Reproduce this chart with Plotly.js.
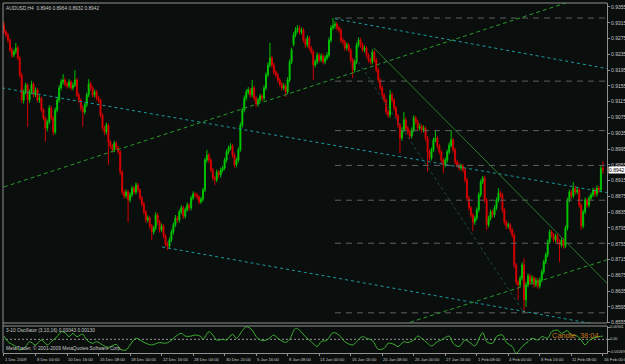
<!DOCTYPE html>
<html><head><meta charset="utf-8">
<script src="https://cdn.plot.ly/plotly-3.0.1.min.js"></script>
<style>html,body{margin:0;padding:0;background:#0a0e0d;}#chart{width:625px;height:364px;}</style>
</head><body><div id="chart"></div>
<script>
const open = [
.9309,.9292,.9284,.9271,.9246,.9233,.9241,.9251,.9226,.9183,
.9119,.9140,.9157,.9119,.9140,.9160,.9132,.9145,.9119,.9124,
.9094,.9074,.9048,.9064,.9099,.9074,.9038,.9094,.9119,.9150,
.9165,.9170,.9160,.9155,.9165,.9150,.9157,.9170,.9132,.9119,
.9099,.9089,.9107,.9132,.9160,.9150,.9132,.9140,.9124,.9119,
.9081,.9048,.9038,.9056,.9013,.9003,.8993,.9010,.8998,.8988,
.8937,.8886,.8876,.8886,.8866,.8879,.8896,.8886,.8904,.8891,
.8871,.8856,.8836,.8815,.8820,.8800,.8785,.8795,.8828,.8810,
.8790,.8800,.8775,.8754,.8749,.8765,.8785,.8803,.8820,.8815,
.8836,.8846,.8825,.8841,.8853,.8846,.8871,.8881,.8879,.8874,
.8861,.8868,.8891,.8967,.8980,.8967,.8942,.8922,.8917,.8937,
.8929,.8942,.8947,.8967,.8988,.8998,.9003,.8980,.8955,.8967,
.8993,.9056,.9094,.9124,.9140,.9145,.9132,.9150,.9124,.9109,
.9119,.9129,.9124,.9150,.9183,.9208,.9226,.9208,.9190,.9183,
.9170,.9160,.9150,.9155,.9140,.9170,.9216,.9260,.9284,.9297,
.9302,.9292,.9297,.9271,.9259,.9276,.9251,.9241,.9208,.9216,
.9233,.9221,.9231,.9216,.9226,.9233,.9271,.9302,.9307,.9312,
.9302,.9297,.9271,.9266,.9251,.9259,.9246,.9221,.9195,.9216,
.9259,.9271,.9259,.9246,.9251,.9233,.9221,.9216,.9241,.9221,
.9195,.9170,.9150,.9132,.9119,.9089,.9081,.9132,.9119,.9099,
.9079,.9056,.9023,.9043,.9069,.9048,.9038,.9028,.9043,.9074,
.9064,.9048,.9053,.9043,.9048,.9023,.8988,.8972,.8993,.9018,
.9023,.9003,.8988,.8967,.8955,.8967,.8988,.9005,.9018,.8993,
.8962,.8955,.8947,.8952,.8942,.8917,.8871,.8846,.8828,.8810,
.8820,.8841,.8879,.8912,.8922,.8866,.8803,.8820,.8836,.8828,
.8846,.8866,.8884,.8879,.8841,.8810,.8800,.8803,.8790,.8777,
.8701,.8658,.8651,.8668,.8701,.8613,.8651,.8673,.8658,.8668,
.8651,.8663,.8648,.8663,.8684,.8709,.8727,.8760,.8785,.8777,
.8765,.8775,.8760,.8752,.8765,.8749,.8795,.8866,.8886,.8876,
.8896,.8886,.8891,.8853,.8800,.8836,.8866,.8853,.8871,.8879,
.8891,.8881,.8896,.8891,.8946];
const high = [
.9318,.9298,.9290,.9276,.9252,.9248,.9264,.9256,.9230,.9188,
.9146,.9163,.9162,.9146,.9168,.9165,.9151,.9150,.9131,.9128,
.9099,.9078,.9070,.9106,.9104,.9079,.9100,.9125,.9157,.9172,
.9185,.9176,.9166,.9172,.9170,.9164,.9195,.9175,.9138,.9124,
.9105,.9113,.9138,.9172,.9166,.9155,.9146,.9145,.9130,.9123,
.9086,.9054,.9062,.9060,.9018,.9008,.9016,.9015,.9003,.8992,
.8941,.8892,.8893,.8891,.8885,.8902,.8901,.8911,.8909,.8896,
.8876,.8861,.8841,.8827,.8825,.8805,.8801,.8835,.8833,.8815,
.8806,.8805,.8780,.8760,.8771,.8791,.8809,.8828,.8826,.8842,
.8853,.8851,.8847,.8860,.8858,.8877,.8888,.8886,.8884,.8878,
.8874,.8897,.8973,.8993,.8985,.8972,.8947,.8927,.8943,.8942,
.8948,.8953,.8973,.8994,.9004,.9010,.9008,.8985,.8973,.8999,
.9062,.9100,.9131,.9147,.9152,.9150,.9170,.9155,.9129,.9125,
.9135,.9134,.9156,.9189,.9215,.9264,.9232,.9214,.9196,.9188,
.9175,.9165,.9162,.9160,.9177,.9222,.9252,.9291,.9304,.9309,
.9308,.9303,.9302,.9276,.9283,.9281,.9256,.9246,.9222,.9240,
.9238,.9237,.9236,.9232,.9240,.9278,.9309,.9327,.9319,.9317,
.9308,.9302,.9277,.9271,.9265,.9264,.9251,.9226,.9222,.9265,
.9278,.9277,.9264,.9257,.9256,.9238,.9226,.9248,.9246,.9226,
.9200,.9175,.9155,.9137,.9124,.9095,.9145,.9138,.9124,.9104,
.9084,.9061,.9050,.9089,.9075,.9054,.9044,.9050,.9081,.9079,
.9069,.9060,.9058,.9055,.9053,.9028,.8994,.8999,.9024,.9043,
.9028,.9008,.8993,.8972,.8973,.8994,.9012,.9043,.9023,.8998,
.8968,.8961,.8958,.8957,.8947,.8922,.8876,.8851,.8833,.8826,
.8847,.8885,.8918,.8927,.8927,.8871,.8826,.8842,.8841,.8852,
.8872,.8896,.8889,.8884,.8846,.8815,.8809,.8808,.8795,.8782,
.8706,.8664,.8674,.8708,.8718,.8658,.8680,.8679,.8675,.8673,
.8669,.8668,.8670,.8690,.8715,.8733,.8766,.8791,.8790,.8782,
.8781,.8780,.8766,.8771,.8770,.8801,.8872,.8892,.8891,.8911,
.8902,.8899,.8896,.8858,.8842,.8872,.8871,.8877,.8885,.8897,
.8896,.8903,.8901,.8952,.8964];
const low = [
.9286,.9278,.9265,.9240,.9226,.9228,.9236,.9220,.9176,.9112,
.9110,.9133,.9051,.9112,.9134,.9126,.9127,.9113,.9112,.9088,
.9068,.9013,.9040,.9058,.9068,.9030,.9032,.9088,.9113,.9144,
.9158,.9153,.9148,.9149,.9144,.9144,.9152,.9126,.9112,.9092,
.9051,.9083,.9101,.9126,.9143,.9126,.9126,.9118,.9112,.9075,
.9042,.9030,.9032,.8955,.8996,.8986,.8987,.8992,.8982,.8930,
.8879,.8868,.8870,.8810,.8860,.8873,.8880,.8880,.8885,.8865,
.8849,.8829,.8808,.8809,.8793,.8765,.8778,.8789,.8803,.8783,
.8784,.8768,.8747,.8739,.8742,.8759,.8779,.8797,.8808,.8809,
.8830,.8818,.8819,.8836,.8839,.8840,.8865,.8872,.8867,.8855,
.8856,.8862,.8886,.8961,.8960,.8935,.8915,.8904,.8911,.8922,
.8923,.8936,.8941,.8961,.8982,.8992,.8973,.8948,.8949,.8961,
.8988,.9050,.9088,.9118,.9133,.9125,.9126,.9117,.9102,.9103,
.9113,.9117,.9118,.9144,.9177,.9202,.9201,.9183,.9176,.9163,
.9153,.9143,.9144,.9127,.9134,.9164,.9210,.9255,.9278,.9290,
.9285,.9286,.9265,.9252,.9253,.9245,.9235,.9170,.9202,.9210,
.9214,.9215,.9209,.9210,.9220,.9227,.9265,.9296,.9300,.9295,
.9290,.9265,.9259,.9244,.9245,.9240,.9214,.9175,.9189,.9210,
.9253,.9252,.9240,.9240,.9227,.9214,.9209,.9210,.9214,.9189,
.9163,.9143,.9125,.9112,.9082,.9074,.9075,.9112,.9092,.9072,
.9049,.8985,.9016,.9037,.9041,.9031,.9021,.9022,.9037,.9057,
.9041,.9042,.9036,.9037,.9016,.8937,.8965,.8966,.8987,.9012,
.8996,.8981,.8960,.8934,.8949,.8961,.8982,.8999,.8986,.8955,
.8948,.8940,.8941,.8935,.8910,.8864,.8839,.8821,.8787,.8803,
.8814,.8835,.8873,.8906,.8859,.8790,.8797,.8814,.8821,.8822,
.8840,.8860,.8872,.8834,.8803,.8793,.8794,.8783,.8770,.8694,
.8651,.8613,.8645,.8662,.8580,.8595,.8645,.8651,.8652,.8644,
.8645,.8640,.8642,.8657,.8678,.8703,.8721,.8754,.8770,.8758,
.8759,.8753,.8709,.8746,.8742,.8744,.8789,.8860,.8869,.8870,
.8879,.8880,.8846,.8790,.8794,.8830,.8846,.8847,.8865,.8873,
.8874,.8875,.8884,.8885,.8932];
const close = [
.9292,.9284,.9271,.9246,.9233,.9241,.9251,.9226,.9183,.9119,
.9140,.9157,.9119,.9140,.9160,.9132,.9145,.9119,.9124,.9094,
.9074,.9048,.9064,.9099,.9074,.9038,.9094,.9119,.9150,.9165,
.9170,.9160,.9155,.9165,.9150,.9157,.9170,.9132,.9119,.9099,
.9089,.9107,.9132,.9160,.9150,.9132,.9140,.9124,.9119,.9081,
.9048,.9038,.9056,.9013,.9003,.8993,.9010,.8998,.8988,.8937,
.8886,.8876,.8886,.8866,.8879,.8896,.8886,.8904,.8891,.8871,
.8856,.8836,.8815,.8820,.8800,.8785,.8795,.8828,.8810,.8790,
.8800,.8775,.8754,.8749,.8765,.8785,.8803,.8820,.8815,.8836,
.8846,.8825,.8841,.8853,.8846,.8871,.8881,.8879,.8874,.8861,
.8868,.8891,.8967,.8980,.8967,.8942,.8922,.8917,.8937,.8929,
.8942,.8947,.8967,.8988,.8998,.9003,.8980,.8955,.8967,.8993,
.9056,.9094,.9124,.9140,.9145,.9132,.9150,.9124,.9109,.9119,
.9129,.9124,.9150,.9183,.9208,.9226,.9208,.9190,.9183,.9170,
.9160,.9150,.9155,.9140,.9170,.9216,.9246,.9284,.9297,.9302,
.9292,.9297,.9271,.9259,.9276,.9251,.9241,.9208,.9216,.9233,
.9221,.9231,.9216,.9226,.9233,.9271,.9302,.9307,.9312,.9302,
.9297,.9271,.9266,.9251,.9259,.9246,.9221,.9195,.9216,.9259,
.9271,.9259,.9246,.9251,.9233,.9221,.9216,.9241,.9221,.9195,
.9170,.9150,.9132,.9119,.9089,.9081,.9132,.9119,.9099,.9079,
.9056,.9023,.9043,.9069,.9048,.9038,.9028,.9043,.9074,.9064,
.9048,.9053,.9043,.9048,.9023,.8988,.8972,.8993,.9018,.9023,
.9003,.8988,.8967,.8955,.8967,.8988,.9005,.9018,.8993,.8962,
.8955,.8947,.8952,.8942,.8917,.8871,.8846,.8828,.8810,.8820,
.8841,.8879,.8912,.8922,.8866,.8803,.8820,.8836,.8828,.8846,
.8866,.8884,.8879,.8841,.8810,.8800,.8803,.8790,.8777,.8701,
.8658,.8651,.8668,.8701,.8613,.8651,.8673,.8658,.8668,.8651,
.8663,.8648,.8663,.8684,.8709,.8727,.8760,.8785,.8777,.8765,
.8775,.8760,.8752,.8765,.8749,.8795,.8866,.8886,.8876,.8896,
.8886,.8891,.8853,.8800,.8836,.8866,.8853,.8871,.8879,.8891,
.8881,.8896,.8891,.8946,.8942];

const timeTickIdx = [0,16,32,48,64,80,96,112,128,144,160,176,192,208,224,240,256,272,288,304];
const timeTickText = ["1 Dec 2009","8 Dec 00:00","10 Dec 16:00","15 Dec 08:00","18 Dec 00:00","22 Dec 16:00","28 Dec 04:00","30 Dec 20:00","5 Jan 16:00","8 Jan 08:00","13 Jan 00:00","15 Jan 16:00","20 Jan 08:00","25 Jan 00:00","27 Jan 16:00","1 Feb 08:00","4 Feb 00:00","8 Feb 16:00","11 Feb 08:00","16 Feb 00:00"];
const priceTicks = [.8555,.8595,.8635,.8675,.8715,.8755,.8795,.8835,.8875,.8915,.8955,.8995,.9035,.9075,.9115,.9155,.9195,.9235,.9275,.9315,.9355];
const oscTicks = [0.0066, 0, -0.0068];
const oscTickText = ['0.00941','0.00','-0.01069'];

const oscX = [0,2,6,8,11,13,16,19,22,24,27,29,31,33,35,37,40,42,45,47,50,53,57,59,62,64,67,69,72,75,79,82,84,87,90,92,95,97,100,101,104,106,108,111,113,116,118,121,123,126,128,131,134,137,139,143,145,148,150,153,156,159,161,164,167,170,173,177,179,182,184,187,190,193,195,198,200,203,205,208,210,212,215,217,220,222,226,228,231,234,237,239,243,245,248,250,253,255,258,260,263,266,268,271,273,276,278,281,283,286,288,291,293,295,297,299,302,304];
const oscV = [.0018,-.0013,-.0040,-.0059,-.0040,-.0013,-.0031,-.0004,-.0031,-.0013,
.0015,.0042,.0037,.0015,.0033,.0015,.0029,-.0004,-.0022,-.0013,
-.0031,-.0044,-.0028,-.0055,-.0059,-.0031,.0006,-.0004,-.0022,-.0031,
-.0018,-.0022,-.0013,.0015,.0033,.0018,.0018,.0024,.0015,0,
.0042,.0024,-.0004,0,-.0004,.0028,.0006,.0048,.0070,.0051,
.0015,-.0007,0,.0024,.0006,-.0017,0,.0061,.0051,.0015,
-.0013,-.0040,-.0013,-.0004,.0037,.0024,-.0013,-.0031,-.0013,.0015,
.0006,-.0007,-.0055,-.0050,-.0022,-.0028,-.0040,-.0013,-.0018,-.0004,
.0018,.0006,-.0022,-.0037,-.0013,-.0004,.0018,-.0022,-.0040,-.0004,
-.0022,-.0037,.0037,-.0013,-.0022,.0015,.0024,-.0018,-.0040,-.0077,
-.0040,-.0013,.0006,-.0004,.0015,.0006,.0042,.0051,.0033,.0048,
.0024,.0018,-.0004,-.0031,-.0007,.0006,.0015,.0018];

// drawn objects (bar index, price)
const channelMidX = [-1, 307.1], channelMidY = [.9150, .8884];
const channelTopX = [168, 307.1], channelTopY = [.9325, .9198];
const channelLowX = [80.2, 307.1], channelLowY = [.8747, .8545];
const trendUpX = [0, 307.1], trendUpY = [.8899, .9401];
const trendUp2X = [196, 307.1], trendUp2Y = [.8540, .8716];
const trendDownX = [187.8, 307.1], trendDownY = [.9251, .8650];
const dotLineX = [178.2, 264], dotLineY = [.9228, .8580];
const fibStart = 168, fibEnd = 307.1;
const fibLevels = [100.0, 78.6, 61.8, 50.0, 38.2, 23.6, 0.0];
const fibHigh = .9327, fibLow = .8580;

const N = close.length;
const idx = close.map((_, i) => i);

const fx = [], fy = [];
const fibPrices = fibLevels.map(l => fibLow + (fibHigh - fibLow) * l / 100);
fibPrices.forEach(p => { fx.push(fibStart, fibEnd, null); fy.push(p, p, null); });

const traces = [
  {type:'scatter', mode:'lines', x:fx, y:fy, line:{color:'#606060', width:1, dash:'6px,5px'}, hoverinfo:'skip'},
  {type:'scatter', mode:'lines', x:channelMidX, y:channelMidY, line:{color:'#1e9aa0', width:1, dash:'dot'}, hoverinfo:'skip'},
  {type:'scatter', mode:'lines', x:channelTopX, y:channelTopY, line:{color:'#1e9aa0', width:1, dash:'dot'}, hoverinfo:'skip'},
  {type:'scatter', mode:'lines', x:channelLowX, y:channelLowY, line:{color:'#1e9aa0', width:1, dash:'dot'}, hoverinfo:'skip'},
  {type:'scatter', mode:'lines', x:trendUpX, y:trendUpY, line:{color:'#2a9a2a', width:1, dash:'4px,3px'}, hoverinfo:'skip'},
  {type:'scatter', mode:'lines', x:trendUp2X, y:trendUp2Y, line:{color:'#2a9a2a', width:1, dash:'4px,3px'}, hoverinfo:'skip'},
  {type:'scatter', mode:'lines', x:trendDownX, y:trendDownY, line:{color:'#2c7a2c', width:1}, hoverinfo:'skip'},
  {type:'scatter', mode:'lines', x:dotLineX, y:dotLineY, line:{color:'#1f4a42', width:1, dash:'dot'}, hoverinfo:'skip'},
  {type:'candlestick', x:idx, open:open, high:high, low:low, close:close,
   increasing:{line:{color:'#00c000', width:1}, fillcolor:'#00ff00'},
   decreasing:{line:{color:'#d00000', width:1}, fillcolor:'#ff0000'},
   whiskerwidth:0, hoverinfo:'skip', xaxis:'x', yaxis:'y'},
  {type:'scatter', mode:'lines', x:[-1, 307.1], y:[0, 0], xaxis:'x', yaxis:'y2', line:{color:'#9a9a9a', width:1, dash:'2px,2px'}, hoverinfo:'skip'},
  {type:'scatter', mode:'lines', x:oscX, y:oscV, xaxis:'x', yaxis:'y2', line:{color:'#3cb030', width:1, shape:'spline', smoothing:1}, hoverinfo:'skip'}
];

const txt = '#c8c8c8';
const fnt = 'Liberation Sans, Arial';
const annotations = [
  {xref:'paper', yref:'paper', x:0, y:1, xanchor:'left', yanchor:'top', xshift:1, yshift:-1, showarrow:false,
   text:`AUDUSD,H4  ${open[N-1].toFixed(4)} ${high[N-1].toFixed(4)} ${low[N-1].toFixed(4)} ${close[N-1].toFixed(4)}`, font:{family:fnt, size:4.8, color:txt}},
  {xref:'paper', yref:'paper', x:0, y:0.0771, xanchor:'left', yanchor:'top', xshift:1, showarrow:false,
   text:'3-10 Oscillator (3,10,16) 0.00043 0.00130', font:{family:fnt, size:4.8, color:txt}},
  {xref:'paper', yref:'paper', x:0, y:0, xanchor:'left', yanchor:'bottom', xshift:1, showarrow:false,
   text:'MetaTrader, © 2001-2009 MetaQuotes Software Corp.', font:{family:fnt, size:4.8, color:txt}},
  {xref:'paper', yref:'paper', x:0.99, y:0.068, xanchor:'right', yanchor:'top', showarrow:false,
   text:'Candle  38:04', font:{family:fnt, size:7.5, color:'#c87818'}},
  {xref:'paper', yref:'y', x:1, y:close[N-1], xanchor:'left', yanchor:'middle', xshift:1, showarrow:false,
   text:close[N-1].toFixed(4), bgcolor:'#ffffff', borderpad:0, font:{family:fnt, size:5, color:'#000000'}}
];
fibLevels.forEach((l, k) => annotations.push({xref:'x', yref:'y', x:fibEnd - 0.5, y:fibPrices[k], xanchor:'right', yanchor:'bottom', showarrow:false,
  text:l.toFixed(1), font:{family:fnt, size:5, color:'#8a8a8a'}}));
timeTickIdx.forEach((v, k) => annotations.push({xref:'x', yref:'paper', x:v, y:0, xanchor:'left', yanchor:'top', yshift:-2, xshift:-1, showarrow:false,
  text:timeTickText[k], font:{family:fnt, size:4.2, color:txt}}));
oscTicks.forEach((v, k) => annotations.push({xref:'paper', yref:'y2', x:1, y:v, xanchor:'left', yanchor:'middle', xshift:1, showarrow:false,
  text:oscTickText[k], font:{family:fnt, size:3.8, color:txt}}));

const layout = {
  width:625, height:364, margin:{l:3, r:18, t:3, b:11},
  paper_bgcolor:'#0a0e0d', plot_bgcolor:'#0a0e0d', showlegend:false,
  xaxis:{range:[-0.5, 306.1], anchor:'y2', tickmode:'array', tickvals:timeTickIdx, showticklabels:false,
    ticks:'outside', ticklen:2, tickcolor:'#909090', showgrid:false, zeroline:false, showline:true, linecolor:'#909090',
    rangeslider:{visible:false}, fixedrange:true},
  yaxis:{domain:[0.0857, 1], range:[.85542, .93651], side:'right', tickmode:'array', tickvals:priceTicks,
    ticktext:priceTicks.map(v => v.toFixed(4)), tickfont:{family:fnt, size:5, color:txt},
    ticks:'outside', ticklen:2, tickcolor:'#909090', showgrid:false, zeroline:false, showline:true, linecolor:'#909090'},
  yaxis2:{domain:[0, 0.0771], range:[-0.0076, 0.0074], side:'right', tickmode:'array', tickvals:oscTicks, showticklabels:false,
    ticks:'outside', ticklen:2, tickcolor:'#909090', showgrid:false, zeroline:false, showline:true, linecolor:'#909090'},
  shapes:[
    {type:'line', xref:'paper', yref:'paper', x0:0, x1:1, y0:1, y1:1, line:{color:'#909090', width:1}},
    {type:'line', xref:'paper', yref:'paper', x0:0, x1:0, y0:0, y1:1, line:{color:'#909090', width:1}},
    {type:'line', xref:'paper', yref:'paper', x0:0, x1:1, y0:0.0857, y1:0.0857, line:{color:'#909090', width:1}},
    {type:'line', xref:'paper', yref:'paper', x0:0, x1:1, y0:0.0771, y1:0.0771, line:{color:'#909090', width:1}}
  ],
  annotations:annotations
};
Plotly.newPlot('chart', traces, layout, {displayModeBar:false, staticPlot:true});
</script></body></html>
